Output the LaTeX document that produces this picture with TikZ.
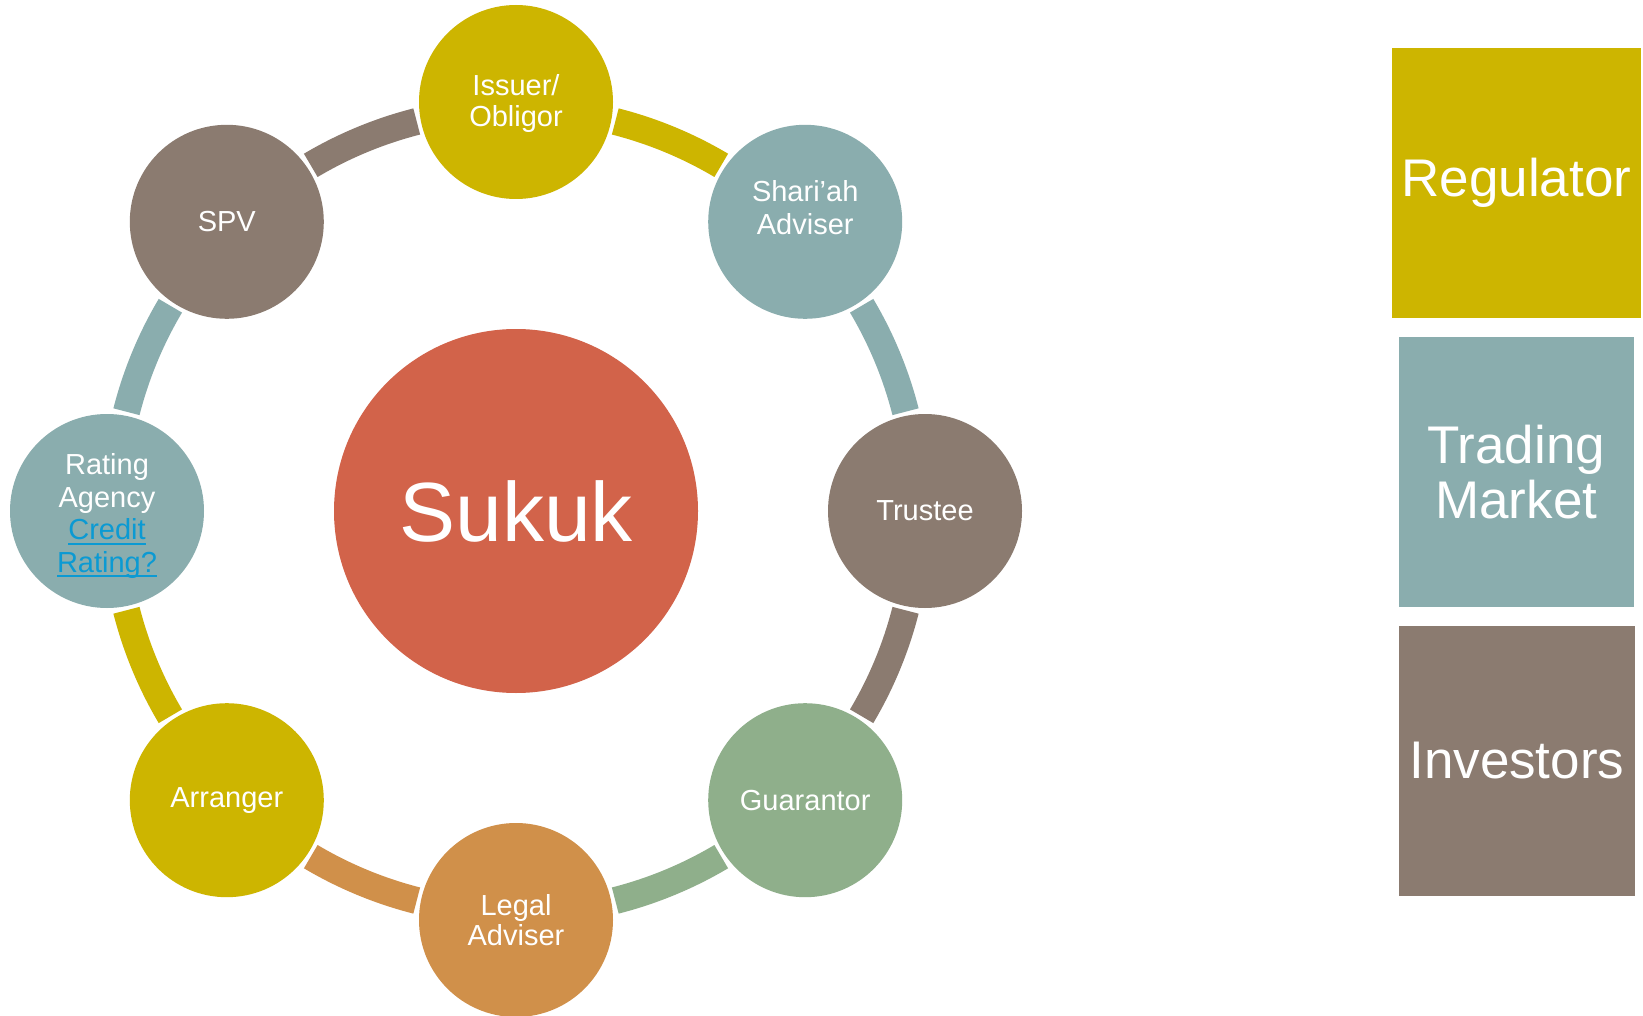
\documentclass[tikz,border=0pt]{standalone}
\usepackage{fontspec}
\setmainfont{Liberation Sans}
\usetikzlibrary{calc}

\definecolor{gold}{HTML}{CDB500}
\definecolor{teal}{HTML}{8AADAE}
\definecolor{taupe}{HTML}{8B7B70}
\definecolor{sage}{HTML}{8FAF8B}
\definecolor{ochre}{HTML}{D0904A}
\definecolor{brick}{HTML}{D2634A}
\definecolor{linkblue}{HTML}{0B9AD3}

% underlined hyperlink-style text
\newcommand{\linktext}[1]{\setbox0=\hbox{#1}\rlap{\rule[-5pt]{\wd0}{2pt}}\box0}

\tikzset{
  member/.style={circle, minimum size=194pt, inner sep=0pt, text=white,
    font=\fontsize{29}{32}\selectfont, align=center},
  caption/.style={inner sep=0pt, text=white, align=center,
    font=\fontsize{29}{32}\selectfont},
  band/.style={line width=27pt, line cap=butt},
  panel/.style={rectangle, inner sep=0pt, text=white,
    font=\fontsize{53}{55}\selectfont, align=center},
}

\begin{document}
\begin{tikzpicture}[x=1pt, y=1pt]
  \useasboundingbox (0,0) rectangle (1643,-1016);
  \fill[white] (0,0) rectangle (1643,-1016);

  \coordinate (C) at (516,-511);

  % ring segments, each in the colour of the member it leaves
  \foreach \a/\col in {90/gold, 45/teal, 0/taupe, -45/sage, -90/ochre, -135/gold, 180/teal, 135/taupe}{
    \pgfmathsetmacro{\sa}{\a-14.3}
    \pgfmathsetmacro{\ea}{\a-30.7}
    \draw[band, draw=\col] ($(C)+(\sa:402pt)$) arc[start angle=\sa, end angle=\ea, radius=402pt];
  }

  % centre
  \node[circle, fill=brick, minimum size=364pt, inner sep=0pt, text=white,
        font=\fontsize{84}{90}\selectfont] (sukuk) at (C) {Sukuk};

  % members of the cycle
  \node[member, fill=gold, font=\fontsize{29}{31}\selectfont] (issuer) at (516,-102) {};
  \node[caption, font=\fontsize{29}{31}\selectfont] (issuertext) at (516,-104) {Issuer/\\Obligor};
  \node[member, fill=teal]  (shariah)   at (805.2,-221.8) {};
  \node[caption, font=\fontsize{29}{33}\selectfont] (shariahtext) at (805.2,-208) {Shari’ah\\Adviser};
  \node[member, fill=taupe] (trustee)   at (925,-511)     {Trustee};
  \node[member, fill=sage]  (guarantor) at (805.2,-800.2) {Guarantor};
  \node[member, fill=ochre, font=\fontsize{29}{30}\selectfont] (legal) at (516,-920) {Legal\\Adviser};
  \node[member, fill=gold]  (arranger)  at (226.8,-800.2) {Arranger};
  \node[member, fill=teal]  (rating)    at (107,-511)     {};
  \node[caption, font=\fontsize{29}{32.5}\selectfont] (ratingtext) at (107,-516)
       {Rating\\Agency\\\textcolor{linkblue}{\linktext{Credit}}\\\textcolor{linkblue}{\linktext{Rating?}}};
  \node[member, fill=taupe] (spv)       at (226.8,-221.8) {SPV};

  % side panels
  \node[panel, fill=gold,  minimum width=249.5pt, minimum height=269.5pt] (regulator) at (1516.25,-182.75) {Regulator};
  \node[panel, fill=teal,  minimum width=234.5pt, minimum height=269.3pt] (market)    at (1516.25,-472)    {Trading\\Market};
  \node[panel, fill=taupe, minimum width=235.6pt, minimum height=270.4pt] (investors) at (1516.8,-760.7)   {Investors};
\end{tikzpicture}
\end{document}
